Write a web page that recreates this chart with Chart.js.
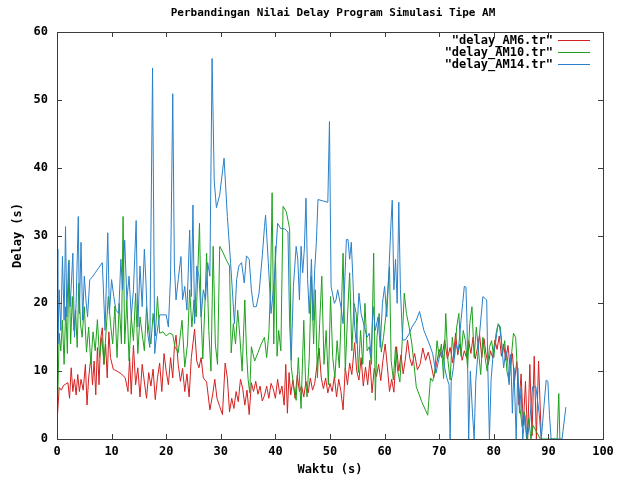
<!DOCTYPE html>
<html>
<head>
<meta charset="utf-8">
<script src="https://cdn.jsdelivr.net/npm/chart.js@4.4.0/dist/chart.umd.min.js"></script>
<style>
  html, body { margin: 0; padding: 0; background: #fff; }
  #wrap { width: 622px; height: 479px; }
</style>
</head>
<body>
<div id="wrap"><canvas id="delayChart" width="622" height="479"></canvas></div>
<script>
var chartTitle = 'Perbandingan Nilai Delay Program Simulasi Tipe AM';
var seriesNames = ['"delay_AM6.tr"', '"delay_AM10.tr"', '"delay_AM14.tr"'];
var seriesColors = ['#d42020', '#1ea01e', '#2a80c8'];
var xTicks = [0, 10, 20, 30, 40, 50, 60, 70, 80, 90, 100];
var yTicks = [0, 10, 20, 30, 40, 50, 60];

// delay_AM6.tr
var am6Time = [
  0.0,0.2,0.4,0.8,1.2,1.6,2.0,2.3,2.6,2.9,
  3.2,3.5,3.8,4.1,4.4,4.8,5.2,5.5,5.8,6.2,
  6.5,6.8,7.1,7.4,7.7,8.0,8.3,8.6,8.9,9.2,
  9.5,9.8,10.3,11.0,11.8,12.5,13.0,13.3,13.6,14.0,
  14.4,14.8,15.2,15.6,16.0,16.4,16.8,17.2,17.6,18.0,
  18.4,18.8,19.2,19.6,20.0,20.4,20.8,21.2,21.5,21.8,
  22.2,22.6,23.0,23.4,23.8,24.2,24.6,25.2,25.6,26.0,
  26.4,26.8,27.4,28.0,28.5,28.9,29.3,29.8,30.3,30.8,
  31.2,31.6,32.0,32.4,32.8,33.2,33.6,34.0,34.4,34.8,
  35.2,35.6,36.0,36.4,36.8,37.2,37.6,38.0,38.4,38.8,
  39.2,39.6,40.0,40.4,40.8,41.2,41.6,41.9,42.2,42.5,
  42.8,43.2,43.6,44.0,44.4,44.8,45.2,45.6,46.0,46.4,
  46.8,47.2,47.6,48.0,48.4,48.8,49.2,49.6,50.0,50.4,
  50.8,51.2,51.6,52.0,52.4,52.8,53.2,53.6,54.0,54.5,
  54.9,55.3,55.7,56.1,56.5,56.9,57.3,57.7,58.1,58.5,
  58.9,59.3,59.7,60.1,60.5,60.9,61.3,61.7,62.2,62.6,
  63.0,63.4,63.8,64.2,64.6,65.0,65.5,66.0,66.5,67.0,
  67.5,68.0,68.5,69.0,69.5,70.0,70.5,71.0,71.5,72.0,
  72.5,73.0,73.4,73.8,74.2,74.6,75.0,75.4,75.8,76.2,
  76.6,77.0,77.4,77.8,78.2,78.6,79.0,79.4,79.8,80.2,
  80.6,81.0,81.4,81.8,82.2,82.6,83.0,83.4,83.8,84.2,
  84.6,85.0,85.4,85.8,86.2,86.6,87.0,87.4,87.8,88.2,
  88.7
];
var am6Delay = [
  2.4,5.0,7.6,7.2,7.9,8.1,8.3,6.0,10.5,7.0,
  8.8,6.5,9.5,7.0,8.8,7.2,11.0,5.0,9.0,12.0,
  8.0,11.5,6.5,13.5,8.0,14.8,16.4,11.0,14.0,9.0,
  15.8,12.0,10.3,10.0,9.6,9.0,7.0,12.0,6.6,13.8,
  8.0,10.5,6.2,11.0,8.4,6.0,9.8,7.8,10.3,5.8,
  9.0,11.2,7.0,12.6,10.0,8.0,12.0,9.0,13.6,15.3,
  11.0,8.5,10.4,7.0,9.6,6.2,12.0,16.2,11.5,10.5,
  12.0,9.0,8.4,4.3,6.5,8.8,6.0,4.8,3.6,11.2,
  9.0,4.0,6.0,4.5,7.0,5.5,8.8,7.5,5.0,7.2,
  3.6,8.3,7.0,8.5,6.6,7.8,5.6,6.4,7.8,6.0,
  8.2,7.4,6.0,8.8,6.6,7.8,5.0,11.0,3.8,9.8,
  6.5,8.7,6.0,9.4,7.0,7.8,6.2,8.5,6.8,9.0,
  7.2,8.2,10.8,13.4,9.0,7.4,9.0,6.8,8.2,7.0,
  9.2,6.2,8.8,7.0,4.3,10.5,8.0,11.2,9.5,14.2,
  10.0,8.7,12.0,7.8,10.6,8.0,11.6,6.8,10.4,9.2,
  11.0,8.6,11.6,14.0,10.7,7.0,8.8,6.9,13.6,10.0,
  12.4,9.6,11.8,14.6,12.0,10.8,12.6,10.2,11.0,13.4,
  11.6,12.8,11.0,9.0,11.0,13.2,12.0,14.6,11.8,13.5,
  11.2,15.6,12.4,14.0,11.6,13.0,12.0,14.5,12.6,15.0,
  11.8,13.4,15.4,12.0,14.8,12.4,11.0,13.0,12.0,14.6,
  13.2,15.2,12.2,14.0,11.6,13.8,10.4,12.6,8.6,11.4,
  5.0,9.6,2.0,8.5,0,11.0,0.5,12.2,0,11.5,
  0
];

// delay_AM10.tr
var am10Time = [
  0.0,0.2,0.4,0.7,1.0,1.3,1.6,1.9,2.2,2.5,
  2.8,3.1,3.4,3.7,4.0,4.3,4.6,5.0,5.4,5.8,
  6.2,6.6,7.0,7.4,7.8,8.2,8.6,9.0,9.4,9.8,
  10.2,10.6,11.0,11.4,11.8,12.1,12.4,12.8,13.2,13.6,
  14.0,14.4,14.8,15.2,15.6,16.0,16.4,16.8,17.2,17.6,
  18.0,18.4,18.8,19.4,20.0,20.6,21.2,21.6,22.2,22.9,
  23.4,23.9,24.3,24.7,25.1,25.5,26.1,26.4,26.7,27.1,
  27.4,27.8,28.2,28.6,29.0,29.4,29.8,30.4,31.0,31.6,
  31.9,32.3,32.7,33.1,33.5,33.9,34.4,34.7,35.0,35.3,
  35.6,36.2,36.8,37.4,38.0,38.4,38.8,39.1,39.4,39.7,
  40.0,40.3,40.6,41.0,41.4,42.0,42.6,42.9,43.3,43.8,
  44.2,44.7,45.2,45.5,45.8,46.2,46.6,47.0,47.3,47.7,
  48.1,48.5,48.9,49.3,49.7,50.1,50.5,50.9,51.3,51.7,
  52.0,52.4,52.8,53.2,53.6,54.0,54.4,54.8,55.2,55.6,
  56.0,56.4,56.8,57.2,57.6,58.0,58.3,58.6,59.0,59.4,
  59.8,60.2,60.6,60.9,61.2,61.6,62.0,62.4,62.8,63.2,
  63.6,64.0,64.5,65.0,65.8,66.8,67.9,68.4,68.8,69.2,
  69.6,70.0,70.4,70.8,71.2,71.6,72.0,72.4,72.8,73.2,
  73.6,74.0,74.4,74.8,75.2,75.6,76.0,76.4,76.8,77.2,
  77.6,78.0,78.4,78.8,79.2,79.6,80.0,80.4,80.8,81.2,
  81.6,82.0,82.4,82.8,83.2,83.6,84.0,84.4,84.8,85.2,
  85.6,86.0,86.4,86.8,87.2,88.5,90.0,91.6,91.9,92.1
];
var am10Delay = [
  4.3,8.0,15.6,13.0,17.5,11.0,19.5,12.6,26.4,14.0,
  21.0,16.0,19.0,13.5,23.0,17.0,15.0,19.5,12.8,16.5,
  11.0,15.8,13.0,17.6,12.0,15.0,11.0,16.0,21.0,17.0,
  14.0,19.6,12.0,20.0,14.0,32.8,14.0,20.5,11.5,18.0,
  14.5,21.5,12.6,18.0,15.5,13.0,19.5,16.0,14.0,18.5,
  15.2,21.0,15.6,15.8,15.2,15.6,15.4,13.6,12.7,17.5,
  10.6,14.0,22.0,16.5,20.5,18.0,31.8,18.0,11.8,20.0,
  27.4,16.0,10.0,28.4,14.0,11.0,28.4,27.5,26.4,25.5,
  12.7,17.0,14.0,19.0,15.0,10.0,20.5,13.0,8.8,6.8,
  13.6,11.5,12.7,14.0,15.0,12.0,15.6,22.0,36.3,14.0,
  28.4,12.2,16.0,13.0,34.3,33.5,31.0,10.7,8.0,5.7,
  12.0,4.5,17.5,9.0,6.2,12.0,24.0,14.0,22.0,9.0,
  17.0,24.0,11.0,16.0,8.0,21.0,12.0,9.0,14.5,10.5,
  17.0,27.4,10.0,18.0,24.5,13.0,20.0,18.5,9.8,16.0,
  11.0,20.0,13.0,13.6,11.0,27.4,5.7,15.0,18.5,12.8,
  15.0,18.0,22.0,25.4,11.6,8.7,13.6,10.0,8.4,14.0,
  21.5,18.5,16.5,14.0,7.7,5.5,3.5,9.0,8.5,10.0,
  14.5,12.0,14.0,8.9,18.5,11.6,8.7,15.0,12.0,16.5,
  18.5,12.2,16.0,14.5,10.5,17.0,19.5,12.0,16.5,13.0,
  9.5,15.0,12.0,10.0,13.5,14.5,12.0,15.5,17.0,16.5,
  12.5,14.5,10.0,8.5,12.0,15.6,15.0,9.0,4.5,1.8,
  4.0,0,3.0,0,2.0,0,0,0,6.7,0
];

// delay_AM14.tr
var am14Time = [
  0.0,0.15,0.4,0.7,1.0,1.3,1.56,1.8,2.1,2.4,
  2.7,2.9,3.2,3.5,3.9,4.1,4.4,4.7,5.0,5.3,
  5.6,6.0,6.4,7.0,7.6,8.3,8.8,9.3,9.6,10.0,
  10.4,10.8,11.3,11.7,12.0,12.4,12.8,13.2,13.6,14.0,
  14.5,14.8,15.2,15.6,16.0,16.3,16.6,17.0,17.5,17.9,
  18.2,18.8,19.4,20.0,20.4,20.8,21.2,21.5,21.8,22.2,
  22.7,23.0,23.4,23.8,24.3,24.6,24.9,25.2,25.6,26.0,
  26.4,26.8,27.2,27.6,28.0,28.4,28.8,29.2,29.8,30.6,
  31.2,31.8,32.5,32.9,33.3,33.8,34.3,34.7,35.2,35.6,
  36.0,36.5,37.0,37.6,38.0,38.2,38.7,39.2,39.8,40.4,
  41.0,41.7,42.3,42.6,42.9,43.3,43.8,44.1,44.4,44.7,
  45.0,45.3,45.6,45.9,46.2,46.6,46.9,47.2,47.5,47.8,
  48.7,49.6,49.9,50.2,50.8,51.1,51.4,52.0,52.4,53.0,
  53.3,53.6,53.9,54.2,54.5,54.8,55.3,55.7,56.3,56.8,
  57.2,57.5,57.9,58.3,58.8,59.2,59.6,60.0,60.4,60.8,
  61.2,61.4,61.7,62.0,62.3,62.6,62.9,63.3,63.8,64.5,
  65.0,65.8,66.4,67.2,68.2,68.8,69.4,70.0,70.6,71.0,
  71.4,71.8,72.0,72.2,72.6,73.0,73.5,74.0,74.3,74.6,
  74.9,75.1,75.4,75.7,76.1,76.4,76.7,77.1,77.5,78.0,
  78.7,78.9,79.2,79.5,79.9,80.3,80.7,81.0,81.4,81.8,
  82.2,82.5,82.8,83.1,83.4,83.7,84.1,84.4,84.7,85.0,
  85.3,85.7,86.1,86.5,87.1,87.7,88.3,88.7,89.2,89.6,
  89.9,90.2,90.5,91.5,92.5,93.2
];
var am14Delay = [
  28.0,14.0,22.0,16.0,26.9,17.5,31.3,18.0,26.0,19.5,
  24.0,27.4,15.0,20.0,32.8,18.5,29.0,17.5,24.0,20.5,
  18.0,23.5,23.8,24.5,25.2,26.0,16.0,30.4,18.5,23.5,
  21.0,19.0,18.5,26.5,22.0,29.3,20.5,24.0,18.0,22.0,
  32.2,16.5,25.5,19.5,28.0,23.0,15.6,13.5,54.7,12.6,
  15.0,18.3,18.3,18.3,16.5,24.0,50.9,25.5,20.5,23.5,
  26.9,20.5,22.5,19.0,30.8,21.0,34.5,17.0,25.5,24.0,
  18.0,22.0,20.5,26.0,24.0,56.1,38.0,34.1,36.0,41.4,
  32.8,25.9,17.0,23.5,25.5,26.0,23.0,27.0,26.5,22.0,
  19.5,19.5,21.5,27.0,31.3,33.0,26.0,18.5,23.5,31.8,
  31.0,31.0,30.5,17.0,11.6,22.5,28.4,26.5,20.5,28.4,
  24.5,28.0,35.5,23.5,18.5,26.5,17.5,25.0,29.0,35.3,
  35.1,34.9,46.8,22.5,20.0,20.5,22.0,19.5,17.0,29.4,
  29.4,26.5,29.0,23.5,16.8,14.1,21.5,18.5,16.5,15.0,
  15.6,12.2,19.5,16.0,18.0,13.5,20.0,22.5,18.0,25.0,
  32.3,35.2,22.0,26.5,20.0,34.9,22.0,14.6,14.6,15.5,
  16.5,17.5,18.8,16.0,14.0,12.6,9.7,12.0,13.0,10.5,
  9.0,8.0,0,8.5,10.5,14.0,13.0,17.5,20.0,22.5,
  22.4,17.0,0,10.0,3.8,0,8.6,12.7,16.5,21.0,
  20.5,10.8,0,8.7,12.7,14.0,16.5,16.8,14.5,10.5,
  13.0,12.0,8.0,12.5,3.8,10.5,0,10.5,3.8,7.5,
  0,3.5,0,2.0,7.7,7.7,3.8,0,5.0,8.7,
  8.5,3.5,0,0,0,4.7
];

function toPoints(times, delays) {
  return times.map(function(t, i) { return { x: t, y: delays[i] }; });
}

var monoFont = '"DejaVu Sans Mono", "Liberation Mono", monospace';

// title centred over the plot frame, like gnuplot does
var frameTitle = {
  id: 'frameTitle',
  afterDraw: function(chart) {
    var ctx = chart.ctx;
    var a = chart.chartArea;
    ctx.save();
    ctx.font = 'bold 11px ' + monoFont;
    ctx.fillStyle = '#000';
    ctx.textAlign = 'center';
    ctx.textBaseline = 'middle';
    ctx.fillText(chartTitle, (a.left + a.right) / 2 + 3, 13);
    ctx.restore();
  }
};

// gnuplot style: ticks pointing inward on all four sides, plus a frame
var frameTicks = {
  id: 'frameTicks',
  afterDatasetsDraw: function(chart) {
    var ctx = chart.ctx;
    var a = chart.chartArea;
    var xs = chart.scales.x;
    var ys = chart.scales.y;
    ctx.save();
    ctx.strokeStyle = '#3c3c3c';
    ctx.lineWidth = 1;
    ctx.beginPath();
    xTicks.forEach(function(v) {
      var px = Math.round(xs.getPixelForValue(v)) + 0.5;
      ctx.moveTo(px, a.bottom); ctx.lineTo(px, a.bottom - 5);
      ctx.moveTo(px, a.top); ctx.lineTo(px, a.top + 5);
    });
    yTicks.forEach(function(v) {
      var py = Math.round(ys.getPixelForValue(v)) + 0.5;
      ctx.moveTo(a.left, py); ctx.lineTo(a.left + 5, py);
      ctx.moveTo(a.right, py); ctx.lineTo(a.right - 5, py);
    });
    ctx.stroke();
    ctx.strokeRect(Math.round(a.left) + 0.5, Math.round(a.top) + 0.5,
      Math.round(a.right - a.left), Math.round(a.bottom - a.top));
    ctx.restore();
  }
};

// key in the top right corner: text right aligned, sample line after it
var cornerKey = {
  id: 'cornerKey',
  afterDraw: function(chart) {
    var ctx = chart.ctx;
    var a = chart.chartArea;
    ctx.save();
    ctx.font = 'bold 12px ' + monoFont;
    ctx.textAlign = 'right';
    ctx.textBaseline = 'middle';
    chart.data.datasets.forEach(function(ds, i) {
      var y = Math.round(a.top + 8 + i * 12) + 0.5;
      ctx.fillStyle = '#000';
      ctx.fillText(ds.label, a.right - 50, y);
      ctx.strokeStyle = seriesColors[i];
      ctx.lineWidth = 1;
      ctx.beginPath();
      ctx.moveTo(a.right - 45, y);
      ctx.lineTo(a.right - 13, y);
      ctx.stroke();
    });
    ctx.restore();
  }
};

var ctx = document.getElementById('delayChart');

var delayChart = new Chart(ctx, {
  type: 'line',
  data: {
    datasets: [
      { label: seriesNames[0], data: toPoints(am6Time, am6Delay), borderColor: seriesColors[0], order: 3 },
      { label: seriesNames[1], data: toPoints(am10Time, am10Delay), borderColor: seriesColors[1], order: 2 },
      { label: seriesNames[2], data: toPoints(am14Time, am14Delay), borderColor: seriesColors[2], order: 1 }
    ]
  },
  options: {
    responsive: false,
    animation: false,
    devicePixelRatio: 1,
    layout: { padding: { left: 0, right: 19, top: 32, bottom: 0 } },
    elements: {
      line: { borderWidth: 1, tension: 0, fill: false },
      point: { radius: 0, hoverRadius: 0 }
    },
    plugins: {
      legend: { display: false },
      tooltip: { enabled: false },
      title: { display: false }
    },
    scales: {
      x: {
        type: 'linear',
        min: 0,
        max: 100,
        afterBuildTicks: function(axis) { axis.ticks = xTicks.map(function(v) { return { value: v }; }); },
        afterFit: function(axis) { axis.height = 40; },
        grid: { display: false, drawTicks: false },
        border: { display: false },
        ticks: { color: '#000', padding: 6, font: { family: monoFont, size: 12, weight: 'bold' } },
        title: { display: true, text: 'Waktu (s)', color: '#000', padding: { top: 0, bottom: 2 },
          font: { family: monoFont, size: 12, weight: 'bold' } }
      },
      y: {
        min: 0,
        max: 60,
        afterBuildTicks: function(axis) { axis.ticks = yTicks.map(function(v) { return { value: v }; }); },
        afterFit: function(axis) { axis.width = 57; },
        grid: { display: false, drawTicks: false },
        border: { display: false },
        ticks: { color: '#000', padding: 9, font: { family: monoFont, size: 12, weight: 'bold' } },
        title: { display: true, text: 'Delay (s)', color: '#000', padding: { top: 11, bottom: 0 },
          font: { family: monoFont, size: 12, weight: 'bold' } }
      }
    }
  },
  plugins: [frameTicks, cornerKey, frameTitle]
});
</script>
</body>
</html>
